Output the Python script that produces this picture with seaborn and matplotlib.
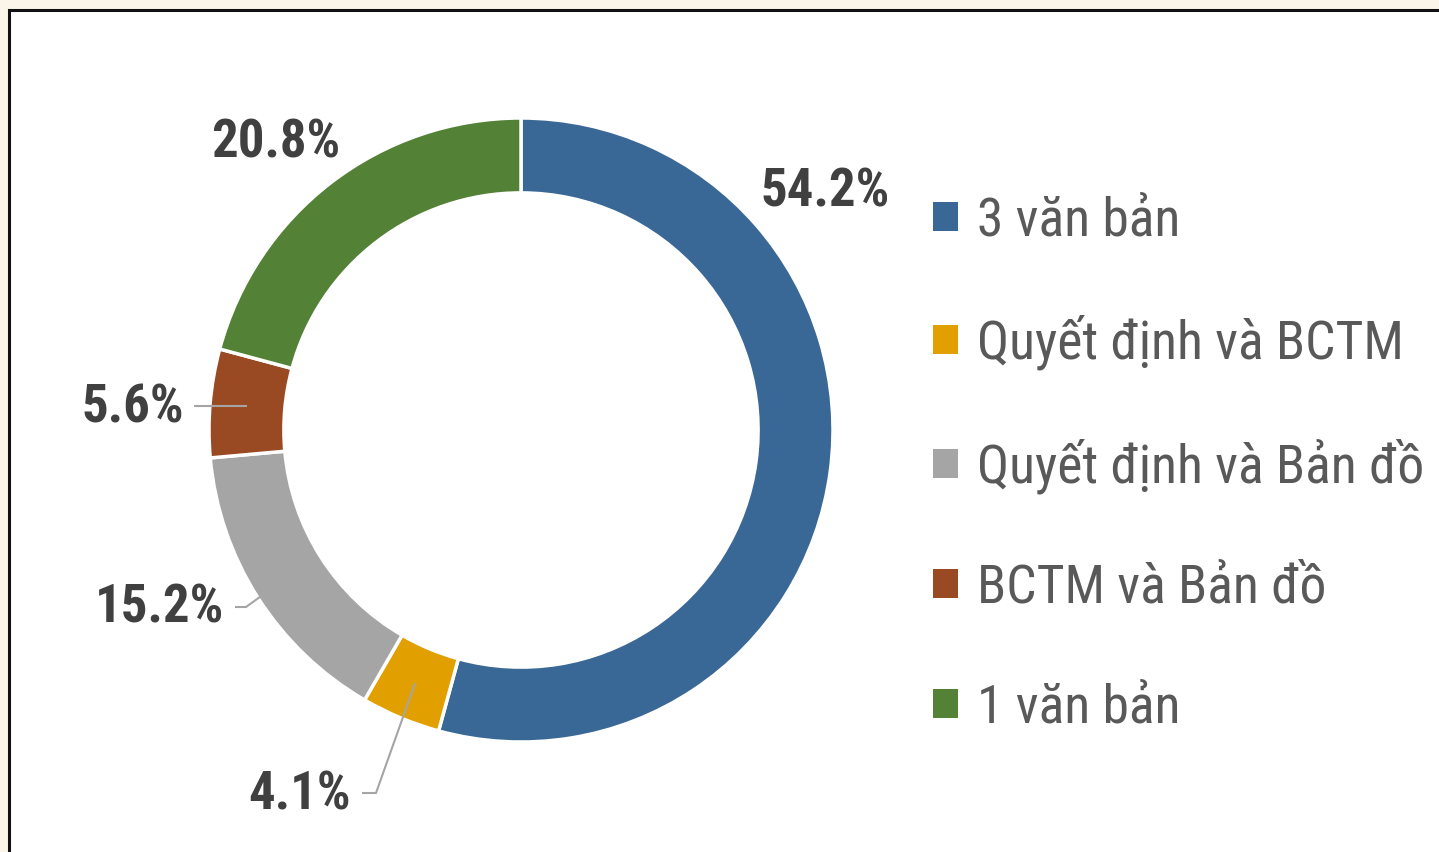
import numpy as np
import matplotlib
matplotlib.use("Agg")
import matplotlib.pyplot as plt
import seaborn as sns
from matplotlib import font_manager
from matplotlib.patches import Rectangle, Patch

categories = ["3 văn bản", "Quyết định và BCTM", "Quyết định và Bản đồ", "BCTM và Bản đồ", "1 văn bản"]
shares = [54.2, 4.1, 15.2, 5.6, 20.8]
colors = ["#3A6896", "#E2A000", "#A5A5A5", "#9A4A22", "#538135"]

sns.set_theme(style="white")
names = {f.name for f in font_manager.fontManager.ttflist}
fam = "Roboto Condensed" if "Roboto Condensed" in names else ("Liberation Sans Narrow" if "Liberation Sans Narrow" in names else "Roboto")
plt.rcParams["font.family"] = [fam, "DejaVu Sans"]

W, H = 1439, 852
fig = plt.figure(figsize=(W / 100, H / 100), dpi=100)
fig.patch.set_facecolor("#FBF4E8")
fig.patches.append(Rectangle((9 / W, -0.01), 1.0, (H - 10) / H + 0.01, transform=fig.transFigure,
                             facecolor="white", edgecolor="#111111", lw=2.2, zorder=-5))

# donut: centre at (521, 430) px, outer radius 312 px
cx, cy, R = 521, 430, 312
span = 700
ax = fig.add_axes([(cx - span / 2) / W, (H - cy - span / 2) / H, span / W, span / H])
ax.set_facecolor("none")
ax.set_zorder(2)

wedges, _ = ax.pie(shares, colors=colors, startangle=90, counterclock=False, radius=1.0,
                   wedgeprops=dict(width=0.24, edgecolor="white", linewidth=2.5))
lim = span / 2 / R
ax.set_xlim(-lim, lim)
ax.set_ylim(-lim, lim)
ax.set_aspect("equal")
ax.axis("off")

def px(x, y):
    return (x - cx) / R, (cy - y) / R

tot = sum(shares)
cum = np.cumsum([0] + shares[:-1])
mids = [np.deg2rad(90 - 360 * (c + s / 2) / tot) for c, s in zip(cum, shares)]
rm = 0.88

lab_kw = dict(fontsize=38, fontweight="bold", color="#404040", ha="center", va="center", clip_on=False)
# label positions in px
lab_pos = [(825, 192), (300, 795), (160, 608), (133, 408), (276, 143)]
for i, (s, (lx, ly)) in enumerate(zip(shares, lab_pos)):
    ax.text(*px(lx, ly), f"{s}%", **lab_kw)

line_kw = dict(color="#A5A5A5", lw=1.5, solid_capstyle="butt", clip_on=False)
# leader lines
a = mids[1]
ex, ey = rm * np.cos(a), rm * np.sin(a)
x0, y0 = px(362, 793)
x1, y1 = px(376, 793)
ax.plot([x0, x1, ex], [y0, y1, ey], **line_kw)
a = mids[2]
ex, ey = 0.97 * np.cos(a), 0.97 * np.sin(a)
x0, y0 = px(235, 607)
x1, y1 = px(246, 607)
ax.plot([x0, x1, ex], [y0, y1, ey], **line_kw)
a = mids[3]
ex, ey = rm * np.cos(a), rm * np.sin(a)
x0, _ = px(194, 407)
ax.plot([x0, ex], [ey, ey], **line_kw)

handles = [Patch(facecolor=c, edgecolor="none") for c in colors]
fig.legend(handles, categories, loc="upper left", bbox_to_anchor=(912 / W, 1 - 174 / H),
           frameon=False, fontsize=38.5, labelcolor="#595959", handlelength=0.46, handleheight=0.46,
           handletextpad=0.35, labelspacing=1.28, borderaxespad=0)

fig.savefig("out.png", dpi=100, facecolor=fig.get_facecolor())
